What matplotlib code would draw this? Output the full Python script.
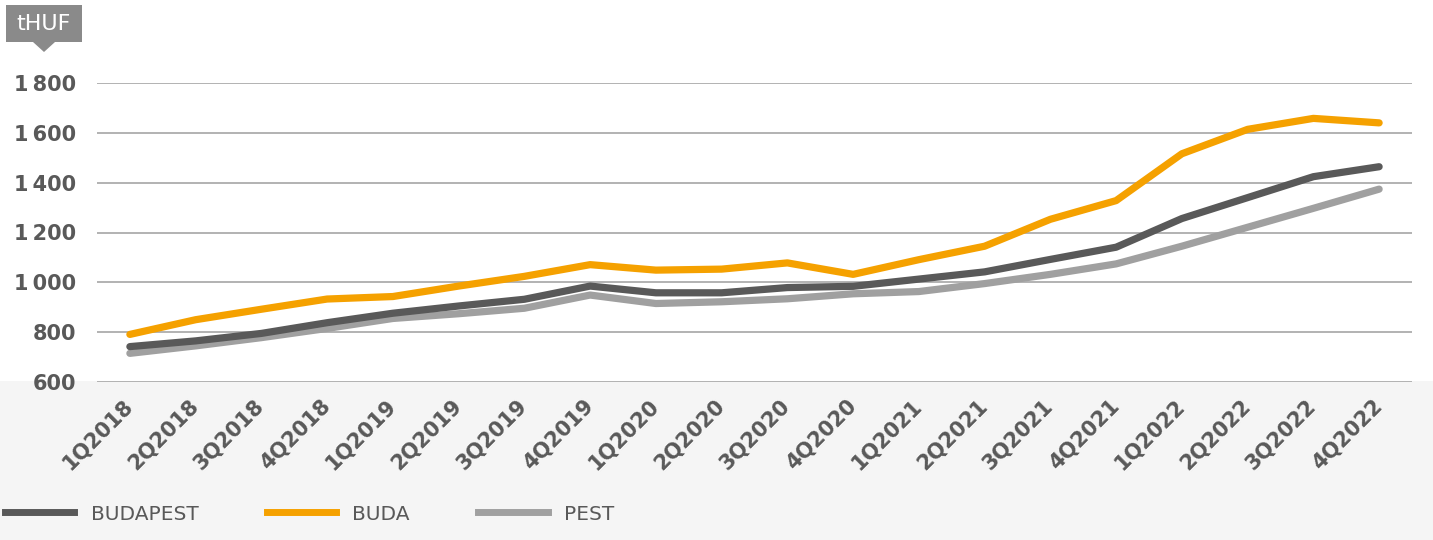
import matplotlib
matplotlib.use("Agg")
import matplotlib.pyplot as plt
from matplotlib.patches import Rectangle, Polygon
from matplotlib.ticker import FuncFormatter
from matplotlib.lines import Line2D

quarters = ["1Q2018", "2Q2018", "3Q2018", "4Q2018", "1Q2019", "2Q2019", "3Q2019", "4Q2019",
            "1Q2020", "2Q2020", "3Q2020", "4Q2020", "1Q2021", "2Q2021", "3Q2021", "4Q2021",
            "1Q2022", "2Q2022", "3Q2022", "4Q2022"]
budapest = [742, 765, 795, 838, 876, 905, 932, 985, 958, 958, 979, 984, 1013, 1042, 1092, 1141,
            1256, 1340, 1424, 1464]
buda = [791, 850, 892, 933, 943, 985, 1024, 1071, 1049, 1053, 1078, 1032, 1091, 1145, 1253, 1328,
        1516, 1614, 1658, 1640]
pest = [715, 745, 778, 815, 855, 874, 896, 949, 915, 922, 934, 954, 963, 995, 1032, 1074,
        1145, 1221, 1297, 1374]
yticks = [600, 800, 1000, 1200, 1400, 1600, 1800]

DARK = "#595959"
ORANGE = "#f5a100"
LGRAY = "#a0a0a0"
TXT = "#595959"

W, H = 1433, 540
fig = plt.figure(figsize=(W / 100, H / 100), dpi=100)
fig.patch.set_facecolor("#f5f5f5")
fig.add_artist(Rectangle((0, 1 - 381 / H), 1, 381 / H, transform=fig.transFigure,
                         facecolor="white", edgecolor="none", zorder=0))

ax = fig.add_axes([97 / W, 1 - 382 / H, 1315 / W, 299 / H])
ax.set_facecolor("none")
x = list(range(len(quarters)))

ax.plot(x, pest, color=LGRAY, lw=5.2, solid_capstyle="round", solid_joinstyle="round",
        label="PEST", zorder=3, clip_on=False)
ax.plot(x, budapest, color=DARK, lw=5.2, solid_capstyle="round", solid_joinstyle="round",
        label="BUDAPEST", zorder=4, clip_on=False)
ax.plot(x, buda, color=ORANGE, lw=5.2, solid_capstyle="round", solid_joinstyle="round",
        label="BUDA", zorder=5, clip_on=False)

ax.set_xlim(-0.5, len(quarters) - 0.5)
ax.set_ylim(600, 1800)
ax.set_yticks(yticks)
ax.yaxis.set_major_formatter(FuncFormatter(
    lambda v, p: (f"{int(v) // 1000}\u2009{int(v) % 1000:03d}" if v >= 1000 else f"{int(v)}")))
ax.grid(axis="y", color="#a6a6a6", lw=1.2, zorder=1)
ax.set_axisbelow(True)
for s in ax.spines.values():
    s.set_visible(False)
ax.tick_params(axis="both", length=0)
ax.tick_params(axis="y", pad=15, labelsize=15, labelcolor=TXT)
for lab in ax.get_yticklabels():
    lab.set_fontweight("bold")

ax.set_xticks(x)
ax.set_xticklabels(quarters, rotation=45, ha="right", va="center", rotation_mode="anchor",
                   fontsize=15, fontweight="bold", color=TXT)
ax.tick_params(axis="x", pad=15)

handles = [Line2D([], [], color=DARK, lw=5), Line2D([], [], color=ORANGE, lw=5),
           Line2D([], [], color=LGRAY, lw=5)]
labels = ["BUDAPEST", "BUDA", "PEST"]
leg = fig.legend(handles, labels, loc="center left", bbox_to_anchor=(5 / W, 1 - 514 / H),
                 ncol=3, frameon=False, fontsize=14.5, handlelength=3.45, handletextpad=0.8,
                 columnspacing=3.4, borderpad=0, borderaxespad=0)
for t in leg.get_texts():
    t.set_color(TXT)

tr = fig.transFigure
fig.add_artist(Rectangle((6 / W, 1 - 42 / H), 76 / W, 37 / H, transform=tr,
                         facecolor="#8a8a8a", edgecolor="none", zorder=2))
fig.add_artist(Polygon([(33 / W, 1 - 42 / H), (55 / W, 1 - 42 / H), (44 / W, 1 - 52 / H)],
                       closed=True, transform=tr, facecolor="#8a8a8a", edgecolor="none", zorder=2))
fig.text(44 / W, 1 - 24 / H, "tHUF", color="white", fontsize=16, ha="center", va="center",
         zorder=3)

fig.savefig("out.png", dpi=100, facecolor=fig.get_facecolor())
